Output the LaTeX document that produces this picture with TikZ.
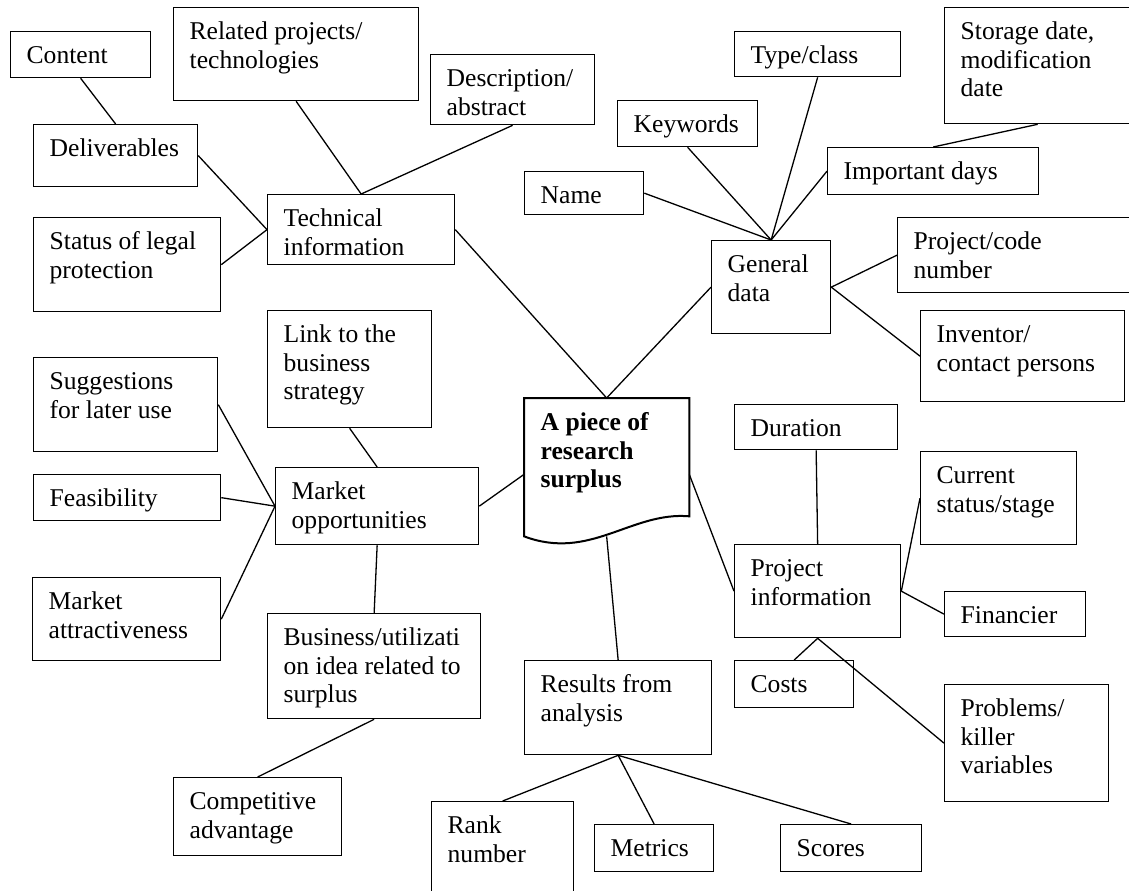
\documentclass[tikz,border=0pt]{standalone}
\usepackage{fontspec}
\setmainfont{Liberation Serif}
\usepackage{tikz}

% box with its text set at the top left corner
\newcommand{\infobox}[7][]{%
  \node[item, #1] (#2) at (#3,#4)
    {\parbox[c][\dimexpr #6pt/2-12pt\relax][t]{\dimexpr #5pt/2-16pt\relax}{\raggedright\strut #7}};}

\begin{document}
\begin{tikzpicture}[x=0.5pt, y=-0.5pt, line width=0.65pt,
  item/.style={draw, anchor=north west, inner xsep=8pt, inner ysep=6pt,
    font=\fontsize{12.8}{14.3}\selectfont}]
\useasboundingbox (0,0) rectangle (1129,890);

% centre
\infobox[draw=none]{surplus}{524}{398}{164}{137}{\bfseries A piece of\\research\\surplus}
\draw[line width=1pt] (surplus.north west) -- (surplus.north east)
  -- ([yshift=10pt]surplus.south east) .. controls +(-58,-5) and +(66,25) .. (surplus.south west) -- cycle;

% technical information
\infobox{content}{10}{31}{140}{46}{Content}
\infobox{related}{173}{7}{245}{93}{Related projects/\\technologies}
\infobox{descr}{430}{54}{164}{70}{Description/\\abstract}
\infobox{deliver}{33}{124}{164}{62}{Deliverables}
\infobox{tech}{267}{194}{187}{70}{Technical\\information}
\infobox{legal}{33}{217}{187}{94}{Status of legal\\protection}

% general data
\infobox{name}{524}{171}{119}{43}{Name}
\infobox{keywords}{617}{100}{140}{46}{Keywords}
\infobox{type}{734}{31}{166}{45}{Type/class}
\infobox{storage}{944}{7}{186}{116}{Storage date,\\modification\\date}
\infobox{important}{827}{147}{211}{47}{Important days}
\infobox{general}{711}{240}{119}{93}{General\\data}
\infobox{projcode}{897}{217}{240}{75}{Project/code\\number}
\infobox{inventor}{920}{310}{204}{91}{Inventor/\\contact persons}

% market opportunities
\infobox{link}{267}{310}{164}{117}{Link to the\\business\\strategy}
\infobox{suggest}{33}{357}{184}{94}{Suggestions\\for later use}
\infobox{feas}{33}{474}{187}{46}{Feasibility}
\infobox{market}{275}{467}{203}{77}{Market\\opportunities}
\infobox{attract}{32}{577}{188}{83}{Market\\attractiveness}
\infobox{business}{267}{613}{213}{105}{Business/utilizati\\on idea related to\\surplus}
\infobox{compet}{173}{777}{168}{78}{Competitive\\advantage}

% project information
\infobox{duration}{734}{404}{163}{45}{Duration}
\infobox{current}{920}{451}{156}{93}{Current\\status/stage}
\infobox{projinfo}{734}{544}{166}{93}{Project\\information}
\infobox{financier}{944}{591}{141}{45}{Financier}
\infobox{costs}{734}{660}{119}{47}{Costs}
\infobox{problems}{944}{684}{164}{117}{Problems/\\killer\\variables}

% results from analysis
\infobox{results}{524}{660}{187}{94}{Results from\\analysis}
\infobox{rank}{431}{801}{142}{110}{Rank\\number}
\infobox{metrics}{594}{824}{119}{47}{Metrics}
\infobox{scores}{780}{824}{141}{47}{Scores}

\draw (content.south) -- (deliver.north);
\draw (deliver.east) -- (tech.west);
\draw (legal.east) -- (tech.west);
\draw (related.south) -- (tech.north);
\draw (descr.south) -- (tech.north);
\draw (tech.east) -- (surplus.north);

\draw (name.east) -- (general.north);
\draw (keywords.south) -- (general.north);
\draw (type.south) -- (general.north);
\draw (important.west) -- (general.north);
\draw (storage.south) -- (important.north);
\draw (general.east) -- (projcode.west);
\draw (general.east) -- (inventor.west);
\draw (surplus.north) -- (general.west);

\draw (surplus.185) -- (market.east);
\draw (link.south) -- (market.north);
\draw (suggest.east) -- (market.west);
\draw (feas.east) -- (market.west);
\draw (attract.east) -- (market.west);
\draw (market.south) -- (business.north);
\draw (business.south) -- (compet.north);

\draw (surplus.-5) -- (projinfo.west);
\draw (duration.south) -- (projinfo.north);
\draw (projinfo.east) -- (current.west);
\draw (projinfo.east) -- (financier.west);
\draw (projinfo.south) -- (costs.north);
\draw (projinfo.south) -- (problems.west);

\draw (surplus.south) -- (results.north);
\draw (results.south) -- (rank.north);
\draw (results.south) -- (metrics.north);
\draw (results.south) -- (scores.north);
\end{tikzpicture}
\end{document}
